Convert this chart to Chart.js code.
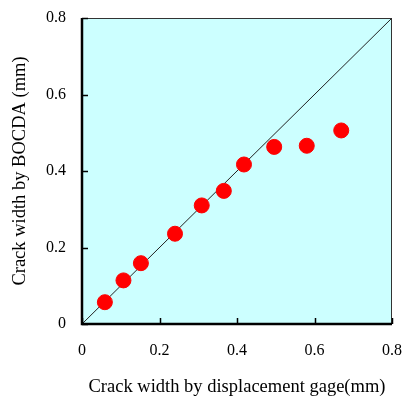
<!DOCTYPE html>
<html>
<head>
<meta charset="utf-8">
<script src="https://cdn.jsdelivr.net/npm/chart.js@4/dist/chart.umd.min.js"></script>
<style>
  html, body { margin: 0; padding: 0; background: #fff; }
  #wrap { width: 406px; height: 399px; }
</style>
</head>
<body>
<div id="wrap"><canvas id="scatter"></canvas></div>
<script>
// data (mm)
var gageWidth = [0.059, 0.107, 0.152, 0.240, 0.309, 0.366, 0.418, 0.496, 0.580, 0.669];
var bocdaWidth = [0.057, 0.114, 0.159, 0.236, 0.310, 0.348, 0.417, 0.463, 0.466, 0.506];
var refLine = [0, 0.8];
var tickValues = [0, 0.2, 0.4, 0.6, 0.8];

var points = gageWidth.map(function (x, i) { return { x: x, y: bocdaWidth[i] }; });
var diag = refLine.map(function (v) { return { x: v, y: v }; });

// cyan plot area + frame + inner ticks
var plotFrame = {
  id: 'plotFrame',
  beforeDatasetsDraw: function (chart) {
    var a = chart.chartArea, c = chart.ctx;
    c.save();
    c.fillStyle = '#CCFFFF';
    c.fillRect(a.left, a.top, a.right - a.left, a.bottom - a.top);
    c.restore();
  },
  afterDatasetsDraw: function (chart) {
    var a = chart.chartArea, c = chart.ctx;
    var xs = chart.scales.x, ys = chart.scales.y;
    c.save();
    // thin top/right edges
    c.strokeStyle = '#333';
    c.lineWidth = 1;
    c.beginPath();
    c.moveTo(a.left, a.top + 0.5);
    c.lineTo(a.right - 0.5, a.top + 0.5);
    c.lineTo(a.right - 0.5, a.bottom);
    c.stroke();
    // ticks pointing inward
    c.strokeStyle = '#000';
    c.lineWidth = 1.5;
    c.beginPath();
    tickValues.forEach(function (v) {
      var px = Math.round(xs.getPixelForValue(v)) + 0.5;
      c.moveTo(px, a.bottom);
      c.lineTo(px, a.bottom - 6);
      var py = Math.round(ys.getPixelForValue(v)) + 0.5;
      c.moveTo(a.left, py);
      c.lineTo(a.left + 6, py);
    });
    c.stroke();
    // thick left/bottom axes
    c.lineWidth = 2.5;
    c.beginPath();
    c.moveTo(a.left, a.top);
    c.lineTo(a.left, a.bottom);
    c.lineTo(a.right, a.bottom);
    c.stroke();
    c.restore();
  }
};

var tickFont = { family: 'Liberation Serif', size: 16 };
var titleFont = { family: 'Liberation Serif', size: 18.5 };

new Chart(document.getElementById('scatter'), {
  type: 'scatter',
  data: {
    datasets: [{
      label: '1:1',
      type: 'line',
      data: diag,
      borderColor: '#222',
      borderWidth: 1,
      pointRadius: 0,
      fill: false,
      order: 2
    }, {
      label: 'Crack width',
      data: points,
      backgroundColor: '#FF0000',
      borderColor: '#FF0000',
      pointRadius: 7.5,
      pointHoverRadius: 7.5,
      order: 1
    }]
  },
  options: {
    responsive: true,
    maintainAspectRatio: false,
    animation: false,
    events: [],
    layout: { padding: { top: 18, right: 14, left: 0, bottom: 0 } },
    plugins: {
      legend: { display: false },
      tooltip: { enabled: false }
    },
    scales: {
      x: {
        type: 'linear',
        min: 0, max: 0.8,
        afterBuildTicks: function (s) { s.ticks = tickValues.map(function (v) { return { value: v }; }); },
        afterFit: function (s) {
          s.height = 75;
          s.paddingLeft = 0; s.paddingRight = 0;
        },
        grid: { display: false, drawTicks: false },
        border: { display: false },
        ticks: {
          font: tickFont, color: '#000', padding: 17, maxRotation: 0,
          callback: function (v) { return v === 0 ? '0' : v.toFixed(1); }
        },
        title: {
          display: true,
          text: 'Crack width by displacement gage(mm)',
          font: titleFont, color: '#000',
          padding: { top: 0, bottom: 1 }
        }
      },
      y: {
        type: 'linear',
        min: 0, max: 0.8,
        afterBuildTicks: function (s) { s.ticks = tickValues.map(function (v) { return { value: v }; }); },
        afterFit: function (s) {
          s.width = 82;
          s.paddingTop = 0; s.paddingBottom = 0;
        },
        grid: { display: false, drawTicks: false },
        border: { display: false },
        ticks: {
          font: tickFont, color: '#000', padding: 16,
          callback: function (v) { return v === 0 ? '0' : v.toFixed(1); }
        },
        title: {
          display: true,
          text: 'Crack width by BOCDA (mm)',
          font: titleFont, color: '#000',
          padding: { top: 9, bottom: 0 }
        }
      }
    }
  },
  plugins: [plotFrame]
});
</script>
</body>
</html>
